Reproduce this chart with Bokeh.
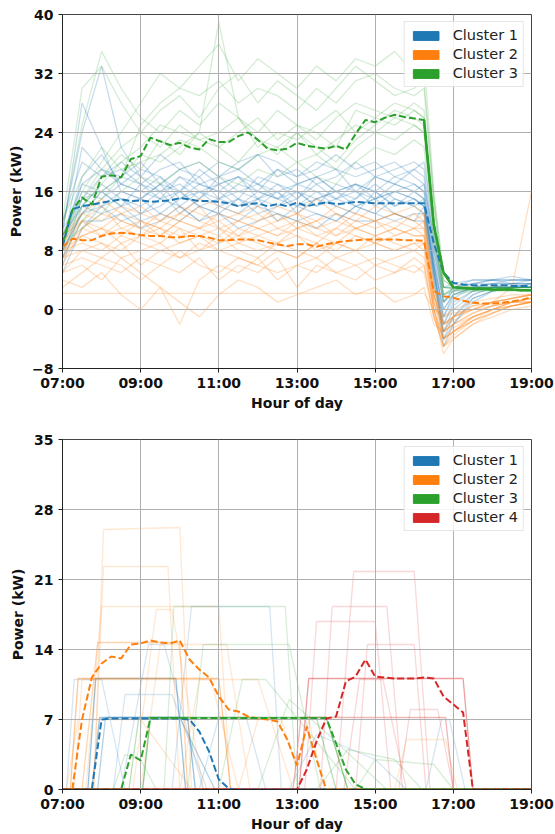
from bokeh.plotting import figure
from bokeh.models import Range1d, FixedTicker, Legend, LegendItem
from bokeh.layouts import column
from bokeh.embed import file_html
from bokeh.resources import INLINE

C1, C2, C3, C4 = "#1f77b4", "#ff7f0e", "#2ca02c", "#d62728"

x_ticks = [7, 9, 11, 13, 15, 17, 19]
x_tick_labels = ["07:00", "09:00", "11:00", "13:00", "15:00", "17:00", "19:00"]
top_y_ticks = [-8, 0, 8, 16, 24, 32, 40]
bot_y_ticks = [0, 7, 14, 21, 28, 35]
top_labels = ["Cluster 1", "Cluster 2", "Cluster 3"]
bot_labels = ["Cluster 1", "Cluster 2", "Cluster 3", "Cluster 4"]

# quarter-hour time axis 07:00 .. 19:00
t_q = [7 + 0.25 * i for i in range(49)]

# ---------------- top chart: cluster means (kW) ----------------
top_mean_c1 = [8.5, 13.6, 14.0, 14.2, 14.5, 14.7, 14.95, 14.7, 14.8, 14.6, 14.7, 14.8, 15.1,
               14.95, 14.7, 14.7, 14.6, 14.4, 14.0, 14.3, 14.4, 14.0, 14.3, 14.0, 14.5, 14.0,
               14.3, 14.5, 14.3, 14.4, 14.6, 14.5, 14.4, 14.4, 14.4, 14.4, 14.4, 14.4, 9.0,
               5.0, 3.6, 3.4, 3.3, 3.3, 3.3, 3.3, 3.2, 3.2, 3.2]
top_mean_c2 = [8.5, 9.6, 9.4, 9.4, 9.97, 10.3, 10.4, 10.3, 10.1, 9.97, 9.97, 9.8, 9.8,
               9.97, 9.97, 9.75, 9.4, 9.4, 9.5, 9.5, 9.4, 9.1, 8.8, 8.6, 8.84, 8.84,
               8.5, 8.84, 9.1, 9.3, 9.4, 9.5, 9.5, 9.5, 9.5, 9.4, 9.4, 9.3, 2.5,
               1.8, 1.6, 1.2, 0.9, 0.8, 0.8, 0.9, 1.1, 1.3, 1.7]
top_mean_c3 = [9.0, 13.5, 15.2, 14.2, 18.0, 18.2, 17.9, 20.4, 20.8, 23.3, 22.8, 22.3, 22.6,
               22.0, 21.7, 23.1, 22.7, 22.7, 23.5, 24.0, 23.0, 21.8, 21.6, 21.8, 22.6, 22.2,
               22.0, 21.8, 22.2, 21.7, 23.8, 25.7, 25.4, 26.0, 26.4, 26.1, 25.9, 25.7, 11.5,
               5.0, 3.0, 2.9, 2.8, 2.8, 2.7, 2.7, 2.7, 2.6, 2.6]

# ---------------- top chart: individual profiles (kW) ----------------
t_ind = [7.0, 7.5, 8.0, 8.5, 9.0, 9.5, 10.0, 10.5, 11.0, 11.5, 12.0, 12.5, 13.0, 13.5,
         14.0, 14.5, 15.0, 15.5, 16.0, 16.25, 16.5, 16.75, 17.0, 17.5, 18.0, 18.5, 19.0]

top_ind_c1 = [
    [9, 15, 16, 14, 17, 15, 16, 18, 15, 16, 17, 15, 16, 14, 17, 16, 15, 17, 16, 15, 6, 0, 2, 3, 3, 3.5, 3],
    [8, 13, 14, 15, 13, 14, 16, 14, 13, 15, 14, 16, 13, 15, 14, 13, 16, 14, 15, 14, 5, -2, 1, 2.5, 3, 3, 3.5],
    [10, 17, 19, 18, 20, 17, 19, 18, 20, 19, 17, 19, 18, 20, 19, 18, 19, 20, 18, 17, 8, 2, 3, 4, 4, 4, 4],
    [7, 12, 12, 13, 11, 12, 14, 12, 13, 11, 12, 13, 12, 11, 13, 12, 12, 13, 12, 12, 4, -3, 0, 2, 3, 3, 3],
    [11, 24, 33, 22, 18, 16, 17, 15, 18, 16, 15, 17, 16, 15, 16, 17, 15, 16, 17, 16, 7, 1, 3, 3.5, 4, 3.5, 4],
    [9, 16, 15, 17, 16, 18, 15, 17, 16, 14, 16, 15, 17, 16, 14, 15, 17, 15, 14, 15, 5, -1, 2, 3, 3, 3, 3],
    [6, 14, 17, 15, 14, 16, 13, 15, 17, 18, 15, 14, 15, 17, 15, 16, 14, 16, 15, 14, 6, -4, -1, 2, 3, 3.5, 3.5],
    [12, 20, 18, 19, 17, 19, 20, 17, 18, 20, 21, 18, 19, 17, 18, 20, 18, 19, 20, 19, 9, 3, 3.5, 4, 4, 4.5, 4],
    [8, 13, 16, 14, 15, 13, 15, 16, 14, 15, 13, 14, 16, 14, 15, 14, 13, 15, 14, 13, 4, -5, -2, 1.5, 2.5, 3, 3],
    [10, 28, 22, 16, 15, 17, 16, 14, 15, 17, 16, 15, 14, 16, 15, 17, 16, 14, 16, 15, 6, 0, 2, 3, 3, 3, 3],
    [9, 18, 21, 17, 16, 15, 18, 16, 17, 15, 18, 17, 15, 18, 16, 15, 18, 17, 16, 17, 10, 1, 2.5, 3, 3.5, 3.5, 3.5],
    [7, 15, 18, 20, 18, 21, 19, 20, 18, 19, 21, 20, 18, 19, 21, 19, 20, 18, 19, 20, 11, 3, 3, 3.5, 4, 4, 4],
    [10, 14, 13, 14, 12, 13, 12, 14, 13, 12, 14, 13, 12, 13, 12, 14, 13, 12, 13, 13, 5, -3, -1, 1.5, 2.5, 3, 3],
    [9, 17, 16, 18, 17, 16, 18, 17, 16, 18, 17, 16, 17, 18, 16, 17, 16, 18, 17, 16, 7, -1, 1.5, 3, 3.5, 3.5, 3.5],
    [11, 15, 14, 16, 15, 17, 14, 16, 15, 14, 15, 16, 14, 15, 16, 14, 15, 16, 15, 14, 6, -2, 0.5, 2.5, 3, 3, 3.5],
    [5, 11, 14, 12, 13, 15, 14, 12, 14, 13, 15, 12, 14, 13, 12, 14, 15, 13, 12, 14, 5, -4, -2, 1, 2.5, 3, 3],
    [8, 22, 19, 17, 19, 18, 16, 19, 17, 18, 16, 19, 17, 18, 19, 16, 18, 17, 19, 18, 8, 1, 2.5, 3.5, 3.5, 4, 4],
]
top_ind_c2 = [
    [9, 10, 11, 10, 12, 11, 10, 11, 12, 10, 11, 10, 11, 12, 10, 11, 10, 11, 10, 10, 1, -3, -2, -0.5, 0.5, 1, 1.5],
    [8, 9, 8, 10, 9, 8, 9, 10, 8, 9, 8, 9, 10, 8, 9, 8, 9, 8, 9, 9, 0, -4, -3, -1, 0, 1, 1],
    [6, 11, 13, 12, 11, 13, 12, 11, 13, 12, 11, 12, 13, 11, 12, 11, 12, 13, 12, 11, 2, -2, -1, 0, 1, 1.5, 2],
    [2.2, 2.2, 2.2, 2.2, 2.2, 2.2, 2.2, 2.2, 2.2, 2.2, 2.2, 2.2, 2.2, 2.2, 2.2, 2.2, 2.2, 2.2, 2.2, 2.2, 0, -1, -0.5, 0, 0.5, 1, 1],
    [5, 6, 4, 7, 5, 3, -2, 4, 6, 5, 7, 4, 6, 5, 7, 6, 4, 5, 6, 5, -1, -5, -4, -2, -1, 0, 0.5],
    [10, 13, 12, 14, 13, 12, 14, 13, 12, 13, 14, 12, 13, 12, 14, 13, 12, 13, 14, 13, 3, -1, 0, 1, 1.5, 2, 2],
    [7, 8, 7, 9, 6, 8, 7, 9, 8, 7, 6, 8, 7, 9, 7, 8, 6, 7, 8, 7, 0, -6, -4, -2, -0.5, 0.5, 1],
    [4, 3, 5, 2, 0, 3, 1, -1, 2, 4, 3, 1, 2, 3, 4, 2, 3, 1, 2, 3, -2, -3, -2, -1, 0, 1, 1],
    [9, 12, 10, 11, 10, 12, 11, 10, 9, 11, 10, 9, 11, 10, 9, 11, 10, 11, 10, 10, 1, -2, -1, 0, 1, 3, 16],
    [8, 10, 9, 8, 10, 9, 11, 8, 9, 10, 9, 8, 7, 9, 8, 10, 9, 8, 9, 8, 0, -4, -3, -1, 0, 0.5, 1],
    [7, 12, 14, 11, 12, 10, 12, 14, 11, 12, 13, 11, 12, 10, 11, 13, 12, 10, 11, 12, 2, -3, -1, 0.5, 1, 1.5, 2],
    [6, 7, 6, 5, 7, 6, 8, 6, 5, 7, 6, 5, 6, 7, 5, 6, 7, 6, 5, 6, -1, -5, -3, -1.5, -0.5, 0.5, 1],
    [8, 11, 10, 12, 11, 10, 12, 11, 10, 12, 11, 10, 12, 11, 10, 12, 11, 12, 11, 11, 2, -3, -2, -0.5, 0.5, 1, 1.5],
    [5, 8, 9, 7, 8, 9, 7, 8, 10, 8, 7, 9, 8, 7, 9, 8, 10, 9, 8, 9, 0, -5, -3.5, -1.5, 0, 0.5, 1],
    [9, 13, 15, 13, 14, 12, 13, 15, 14, 13, 12, 14, 13, 15, 13, 12, 14, 13, 12, 13, 3, -2, -1, 0.5, 1, 1.5, 2],
    [3, 5, 7, 6, 4, 6, 5, 7, 4, 6, 5, 7, 3, 6, 5, 4, 6, 5, 7, 6, -1, -4, -3, -1.5, -0.5, 0.5, 1],
    [7, 10, 11, 9, 10, 11, 9, 10, 11, 9, 10, 11, 10, 9, 11, 10, 9, 10, 11, 10, 1, -4, -2.5, -1, 0, 1, 1.5],
    [10, 12, 11, 13, 12, 11, 13, 12, 11, 10, 12, 13, 11, 12, 13, 11, 12, 11, 13, 12, 2, -2, -1.5, 0, 1, 1.5, 2],
]
top_ind_c3 = [
    [10, 14, 17, 20, 22, 25, 24, 23, 22, 24, 26, 23, 25, 24, 22, 27, 26, 28, 27, 26, 12, 3, 2.8, 2.8, 2.8, 2.7, 2.7],
    [8, 12, 15, 18, 25, 28, 30, 29, 31, 28, 30, 29, 27, 30, 28, 31, 32, 30, 29, 30, 15, 4, 3, 3, 3, 3, 3],
    [12, 18, 22, 19, 20, 21, 23, 22, 20, 19, 21, 22, 20, 21, 19, 22, 24, 23, 25, 24, 10, 2, 2.5, 2.5, 2.6, 2.6, 2.6],
    [9, 11, 13, 16, 18, 17, 19, 20, 18, 17, 19, 18, 20, 18, 17, 20, 22, 21, 23, 22, 9, 1, 2, 2.5, 2.5, 2.5, 2.5],
    [11, 25, 35, 30, 26, 24, 27, 25, 28, 26, 24, 27, 25, 23, 26, 28, 27, 26, 28, 27, 14, 3, 3, 3, 3, 3, 3],
    [10, 16, 20, 24, 28, 32, 30, 33, 36, 31, 34, 32, 30, 33, 31, 34, 33, 35, 32, 34, 16, 5, 3.5, 3, 3, 3, 3],
    [9, 13, 16, 18, 21, 20, 22, 24, 39, 26, 23, 22, 24, 21, 23, 25, 24, 26, 25, 24, 11, 2, 2.8, 2.8, 2.8, 2.8, 2.8],
    [10, 15, 19, 22, 24, 22, 25, 23, 24, 26, 22, 24, 23, 25, 27, 24, 26, 25, 27, 26, 12, 3, 2.8, 2.7, 2.7, 2.7, 2.7],
    [9, 14, 18, 21, 19, 23, 21, 24, 22, 20, 23, 21, 24, 22, 20, 23, 25, 27, 26, 25, 11, 2, 2.6, 2.6, 2.6, 2.6, 2.6],
    [12, 30, 33, 28, 24, 27, 29, 26, 30, 32, 28, 31, 29, 27, 30, 33, 31, 29, 30, 31, 15, 4, 3, 3, 3, 3, 3],
]

# ---------------- bottom chart: cluster means (kW) ----------------
bot_mean_c1 = [0, 0, 0, 0, 7.0, 7.1, 7.1, 7.1, 7.1, 7.1, 7.1, 7.1, 7.1, 7.0, 5.8, 3.8, 1.0, 0.1] + [0] * 31
bot_mean_c2 = [0, 0, 7.0, 11.2, 12.6, 13.3, 13.1, 14.5, 14.6, 14.9, 14.7, 14.6, 14.9, 13.0,
               12.0, 11.2, 9.3, 8.0, 7.8, 7.3, 7.1, 7.0, 6.8, 5.0, 2.4, 6.3, 3.0] + [0] * 22
bot_mean_c3 = [0, 0, 0, 0, 0, 0, 0, 3.5, 2.9] + [7.15] * 19 + [4.6, 2.0, 0.5, 0.05] + [0] * 17
bot_mean_c4 = [0] * 25 + [2.0, 4.8, 7.1, 7.3, 10.8, 11.3, 13.0, 11.3, 11.2, 11.1, 11.1, 11.1,
                          11.2, 11.1, 9.3, 8.5, 7.7] + [0] * 7

# ---------------- bottom chart: individual charging sessions ----------------
# each session: vertex hours, power values (kW), number of overlapping sessions
bot_c1_t = [[7, 7.75, 7.95, 10.2, 10.4, 19], [7, 7.9, 8.1, 10.0, 10.9, 19], [7, 7.65, 7.85, 9.9, 10.15, 19],
            [7, 7.1, 7.3, 8.0, 8.6, 19], [7, 8.3, 8.6, 9.8, 10.7, 19], [7, 8.5, 9.2, 9.6, 10.6, 19],
            [7, 9.8, 10.3, 12.3, 12.6, 19], [7, 16.3, 16.7, 16.9, 17.3, 19], [7, 12.8, 13.5, 15.0, 15.8, 19],
            [7, 10.5, 11.0, 11.7, 12.2, 19]]
bot_c1_v = [[0, 0, 7.2, 7.2, 0, 0], [0, 0, 7.2, 7.2, 0, 0], [0, 0, 11.1, 11.1, 0, 0],
            [0, 0, 11.0, 11.0, 0, 0], [0, 0, 9.5, 9.5, 0, 0], [0, 0, 14.5, 14.5, 0, 0],
            [0, 0, 18.3, 18.3, 0, 0], [0, 0, 7.0, 7.0, 0, 0], [0, 0, 5.5, 3.0, 0, 0],
            [0, 0, 7.2, 7.2, 0, 0]]
bot_c1_n = [3, 2, 3, 1, 1, 1, 1, 1, 1, 1]

bot_c2_t = [[7, 7.2, 7.4, 11.0, 11.3, 19], [7, 7.5, 7.9, 10.0, 10.2, 19], [7, 7.8, 8.05, 10.0, 10.3, 19],
            [7, 7.8, 8.05, 9.7, 10.0, 19], [7, 7.6, 8.0, 11.0, 11.3, 19], [7, 7.3, 7.5, 12.0, 12.9, 19],
            [7, 7.1, 7.4, 9.0, 10.3, 19], [7, 8.8, 9.4, 9.8, 10.6, 19], [7, 11.5, 12.0, 12.6, 13.0, 13.3, 13.7, 19],
            [7, 15.5, 15.8, 16.8, 17.1, 19], [7, 9.0, 9.5, 11.2, 11.8, 19], [7, 10.0, 10.5, 10.8, 11.5, 19]]
bot_c2_v = [[0, 0, 11.1, 11.1, 0, 0], [0, 0, 14.7, 14.7, 0, 0], [0, 0, 26.0, 26.2, 0, 0],
            [0, 0, 22.3, 22.3, 0, 0], [0, 0, 18.3, 18.3, 0, 0], [0, 0, 11.0, 11.0, 0, 0],
            [0, 0, 7.0, 7.0, 0, 0], [0, 0, 18.0, 18.0, 0, 0], [0, 0, 7, 7, 2, 7, 0, 0],
            [0, 0, 5.0, 5.0, 0, 0], [0, 0, 14.5, 14.5, 0, 0], [0, 0, 11.0, 11.0, 0, 0]]
bot_c2_n = [3, 2, 1, 1, 1, 1, 1, 1, 1, 1, 1, 1]

bot_c3_t = [[7, 9.05, 9.25, 13.75, 14.3, 19], [7, 8.7, 8.95, 13.5, 14.0, 19], [7, 9.6, 9.85, 12.7, 13.0, 19],
            [7, 10.2, 10.6, 12.8, 13.6, 19], [7, 11.0, 11.6, 12.2, 14.5, 19], [7, 13.5, 14.3, 15.5, 16.2, 19],
            [7, 12.0, 12.8, 13.8, 15.3, 19], [7, 8.3, 8.6, 9.0, 9.4, 19], [7, 14.5, 15.0, 16.5, 17.0, 19]]
bot_c3_v = [[0, 0, 7.2, 7.2, 0, 0], [0, 0, 7.15, 7.15, 0, 0], [0, 0, 18.3, 18.3, 0, 0],
            [0, 0, 14.5, 14.5, 0, 0], [0, 0, 11.0, 11.0, 0, 0], [0, 0, 4.0, 3.0, 0, 0],
            [0, 0, 9.0, 5.5, 0, 0], [0, 0, 3.5, 3.0, 0, 0], [0, 0, 3.0, 2.5, 0, 0]]
bot_c3_n = [4, 2, 1, 1, 1, 1, 1, 1, 1]

bot_c4_t = [[7, 13.05, 13.3, 17.25, 17.5, 19], [7, 14.0, 14.45, 16.0, 16.4, 19], [7, 13.6, 13.9, 15.3, 15.7, 19],
            [7, 12.9, 13.1, 16.8, 17.0, 19], [7, 14.5, 14.8, 16.0, 16.3, 19], [7, 13.2, 13.5, 15.0, 15.4, 19],
            [7, 15.6, 15.9, 16.6, 17.0, 19], [7, 14.2, 14.6, 15.2, 15.8, 19]]
bot_c4_v = [[0, 0, 11.1, 11.1, 0, 0], [0, 0, 21.8, 21.8, 0, 0], [0, 0, 18.3, 18.3, 0, 0],
            [0, 0, 7.2, 7.2, 0, 0], [0, 0, 14.5, 14.5, 0, 0], [0, 0, 16.8, 16.8, 0, 0],
            [0, 0, 8.0, 8.0, 0, 0], [0, 0, 11.0, 11.0, 0, 0]]
bot_c4_n = [3, 1, 1, 2, 1, 1, 1, 1]

FONT = "DejaVu Sans"


def make_fig(height, border_top, border_bottom, y_lo, y_hi, y_ticks):
    p = figure(width=555, height=height, x_range=Range1d(7, 19), y_range=Range1d(y_lo, y_hi),
               output_backend="svg", toolbar_location=None,
               min_border_left=62, min_border_right=24,
               min_border_top=border_top, min_border_bottom=border_bottom)
    p.background_fill_color = "white"
    p.border_fill_color = "white"
    p.outline_line_color = "#444444"
    p.outline_line_width = 1
    p.xaxis.ticker = FixedTicker(ticks=x_ticks)
    p.xaxis.major_label_overrides = {t: l for t, l in zip(x_ticks, x_tick_labels)}
    p.yaxis.ticker = FixedTicker(ticks=y_ticks)
    p.xaxis.axis_label = "Hour of day"
    p.yaxis.axis_label = "Power (kW)"
    for ax in (p.xaxis[0], p.yaxis[0]):
        ax.axis_line_color = "#222222"
        ax.major_tick_line_color = "#222222"
        ax.major_tick_in = 0
        ax.major_tick_out = 4
        ax.minor_tick_line_color = None
        ax.major_label_text_font = FONT
        ax.major_label_text_font_style = "bold"
        ax.major_label_text_font_size = "14px"
        ax.major_label_text_color = "#111111"
        ax.axis_label_text_font = FONT
        ax.axis_label_text_font_style = "bold"
        ax.axis_label_text_font_size = "14px"
        ax.axis_label_text_color = "#111111"
    p.xaxis.major_label_standoff = 2
    p.yaxis.major_label_standoff = 5
    p.xaxis.axis_label_standoff = 1
    p.yaxis.axis_label_standoff = 5
    p.xgrid.grid_line_color = "#b0b0b0"
    p.ygrid.grid_line_color = "#b0b0b0"
    p.xgrid.grid_line_width = 1
    p.ygrid.grid_line_width = 1
    return p


def add_legend(p, labels, colors, y_lo):
    # legend proxies: single patches placed below the visible y range
    items = []
    for lab, col in zip(labels, colors):
        r = p.quad(left=[7], right=[8], top=[y_lo - 100], bottom=[y_lo - 101],
                   fill_color=col, line_color=col)
        items.append(LegendItem(label=lab, renderers=[r]))
    lg = Legend(items=items, location="top_right", margin=7, padding=5, spacing=3,
                glyph_width=32, glyph_height=11, label_standoff=11,
                label_text_font=FONT, label_text_font_size="14.5px", label_text_color="#222222",
                border_line_color="#cccccc", border_line_width=1,
                background_fill_color="white", background_fill_alpha=0.85)
    p.add_layout(lg)


# ---------------- top figure ----------------
p1 = make_fig(415, 14, 47, -8, 40, top_y_ticks)
for lines, col, a in ((top_ind_c1, C1, 0.25), (top_ind_c2, C2, 0.25), (top_ind_c3, C3, 0.2)):
    p1.multi_line([t_ind] * len(lines), lines, line_color=col, line_alpha=a,
                  line_width=1.3, level="image")

dash = "7 3"
p1.line(t_q, top_mean_c1, line_color=C1, line_width=2, line_dash=dash)
p1.line(t_q, top_mean_c2, line_color=C2, line_width=2, line_dash=dash)
p1.line(t_q, top_mean_c3, line_color=C3, line_width=2, line_dash=dash)
p1.line(t_q[37:], top_mean_c3[37:], line_color=C3, line_width=2.5)
add_legend(p1, top_labels, [C1, C2, C3], -8)

# ---------------- bottom figure ----------------
p2 = make_fig(419, 24, 42, 0, 35, bot_y_ticks)
single_alpha = 0.18
for ts, vs, ns, col in ((bot_c1_t, bot_c1_v, bot_c1_n, C1), (bot_c2_t, bot_c2_v, bot_c2_n, C2),
                        (bot_c3_t, bot_c3_v, bot_c3_n, C3), (bot_c4_t, bot_c4_v, bot_c4_n, C4)):
    alphas = [1 - (1 - single_alpha) ** n for n in ns]
    p2.multi_line(ts, vs, line_color=col, line_alpha=alphas, line_width=1.3, level="image")

p2.line(t_q, bot_mean_c1, line_color=C1, line_width=2, line_dash=dash)
p2.line(t_q, bot_mean_c2, line_color=C2, line_width=2, line_dash=dash)
p2.line(t_q, bot_mean_c3, line_color=C3, line_width=2, line_dash=dash)
p2.line(t_q, bot_mean_c4, line_color=C4, line_width=2, line_dash=dash)
add_legend(p2, bot_labels, [C1, C2, C3, C4], 0)

layout = column(p1, p2, spacing=0)
open("out.html", "w").write(file_html(layout, INLINE))
